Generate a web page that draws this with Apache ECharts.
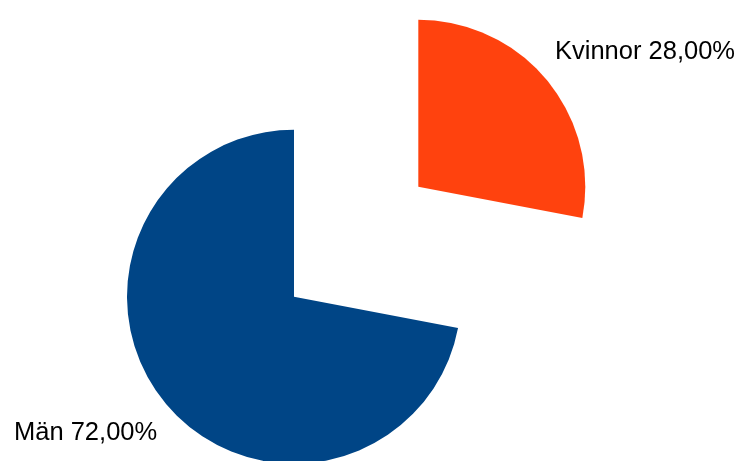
<!DOCTYPE html>
<html>
<head>
<meta charset="utf-8">
<script src="https://cdn.jsdelivr.net/npm/echarts@6/dist/echarts.min.js"></script>
<style>
html,body{margin:0;padding:0;background:#fff;}
#chart{width:742px;height:461px;}
</style>
</head>
<body>
<div id="chart"></div>
<script>
var categories = ['Kvinnor', 'Män'];
var values = [28, 72];
var colors = ['#ff420e', '#004586'];

var chart = echarts.init(document.getElementById('chart'), null, {renderer: 'canvas'});

function fmt(p) {
  return p.name + ' ' + p.percent.toFixed(2).replace('.', ',') + '%';
}

// one series per exploded slice; the other slice in each series is invisible
var centers = [[418.3, 186.7], [294, 296.7]];
var labelPos = [
  {x: 555, y: 52.2, align: 'left'},
  {x: 14, y: 432.8, align: 'left'}
];

var series = categories.map(function (cat, si) {
  return {
    type: 'pie',
    center: centers[si],
    radius: 167,
    startAngle: 90,
    clockwise: true,
    avoidLabelOverlap: false,
    silent: true,
    emphasis: {disabled: true},
    labelLine: {show: false},
    label: {
      show: true,
      position: 'outside',
      formatter: fmt,
      fontFamily: 'Liberation Sans',
      fontSize: 25.5,
      color: '#000'
    },
    labelLayout: function () {
      return {x: labelPos[si].x, y: labelPos[si].y, align: labelPos[si].align, verticalAlign: 'middle'};
    },
    data: categories.map(function (c, i) {
      var visible = i === si;
      return {
        name: c,
        value: values[i],
        itemStyle: {color: visible ? colors[i] : 'rgba(0,0,0,0)'},
        label: {show: visible}
      };
    })
  };
});

chart.setOption({
  animation: false,
  backgroundColor: '#ffffff',
  series: series
});
</script>
</body>
</html>
